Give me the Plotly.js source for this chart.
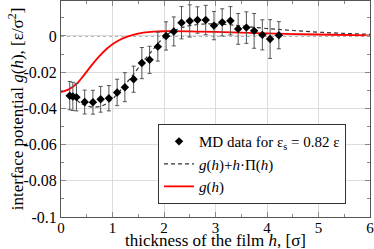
<!DOCTYPE html>
<html>
<head>
<meta charset="utf-8">
<script src="https://cdn.plot.ly/plotly-3.0.1.min.js"></script>
<style>html,body{margin:0;padding:0;background:#fff;}#chart{width:374px;height:249px;}</style>
</head>
<body>
<div id="chart"></div>
<script>
// MD data points
const hMD = [0.17,0.23,0.30,0.46,0.62,0.77,0.93,1.09,1.24,1.41,1.57,1.72,1.88,2.04,2.19,2.34,2.50,2.65,2.81,2.97,3.13,3.29,3.44,3.60,3.75,3.91,4.06,4.23];
const gMD = [-0.0330,-0.0334,-0.0338,-0.0365,-0.0366,-0.0350,-0.0344,-0.0312,-0.0283,-0.0239,-0.0150,-0.0132,-0.0059,0.0000,0.0025,0.0073,0.0083,0.0088,0.0088,0.0057,0.0075,0.0084,0.0039,0.0046,0.0028,0.0006,-0.0017,0.0004];
const errMD = [0.0078,0.0078,0.0076,0.0066,0.0066,0.0071,0.0070,0.0073,0.0080,0.0072,0.0086,0.0075,0.0080,0.0078,0.0080,0.0089,0.0089,0.0073,0.0081,0.0078,0.0075,0.0078,0.0085,0.0087,0.0096,0.0083,0.0107,0.0075];

// g(h) + h*Pi(h) (dashed)
const hDash = [0.30,0.40,0.55,0.66,0.80,0.92,1.08,1.24,1.40,1.57,1.73,1.89,2.05,2.21,2.40,2.60,2.80,3.00,3.30,3.60,4.00,4.50,5.00,5.50,6.00];
const gDash = [-0.0352,-0.0375,-0.0390,-0.0393,-0.0386,-0.0367,-0.0325,-0.0270,-0.0215,-0.0150,-0.0095,-0.0040,0.0006,0.0031,0.0050,0.0061,0.0066,0.0066,0.0061,0.0052,0.0041,0.0030,0.0021,0.0014,0.0009];

// g(h) (red)
const hRed = [0.00,0.15,0.30,0.45,0.60,0.75,0.90,1.05,1.20,1.40,1.60,1.80,2.00,2.50,3.00,4.00,5.00,6.00];
const gRed = [-0.0310,-0.0295,-0.0265,-0.0215,-0.0160,-0.0110,-0.0068,-0.0036,-0.0013,0.0006,0.0018,0.0024,0.0026,0.0025,0.0022,0.0014,0.0008,0.0003];

const xTickVals = [0,1,2,3,4,5,6];
const xTickText = ['0','1','2','3','4','5','6'];
const yTickVals = [0,-0.02,-0.04,-0.06,-0.08,-0.1];
const yTickText = ['0','-0.02','-0.04','-0.06','-0.08','-0.1'];

const xTitle = 'thickness of the film <i>h</i>, [σ]';
const yTitle = 'interface potential <i>g</i>(<i>h</i>), [ε/σ<sup>2</sup>]';

const serif = "'Liberation Serif', 'Times New Roman', serif";

const traces = [
  {x: hDash, y: gDash, mode: 'lines', name: '<i>g</i>(<i>h</i>)+<i>h</i>·Π(<i>h</i>)',
   line: {color: '#333', width: 1.2, dash: '4px,3px', shape: 'spline'}, legendrank: 2},
  {x: hRed, y: gRed, mode: 'lines', name: '<i>g</i>(<i>h</i>)',
   line: {color: '#ff0000', width: 1.8, shape: 'spline'}, legendrank: 3},
  {x: hMD, y: gMD, mode: 'markers', name: 'MD data for ε<sub>s</sub> = 0.82 ε',
   marker: {symbol: 'diamond', size: 6.5, color: '#000'},
   error_y: {type: 'data', array: errMD, visible: true, color: '#555', thickness: 1, width: 2},
   legendrank: 1}
];

const axisCommon = {
  showline: true, mirror: 'ticks', linecolor: '#555', linewidth: 1,
  showgrid: true, gridcolor: '#dcdcdc', gridwidth: 1, zeroline: false,
  ticks: 'inside', ticklen: 5, tickcolor: '#888', tickwidth: 1,
  ticklabeloverflow: 'allow',
  tickfont: {family: serif, size: 16, color: '#000'}
};

const layout = {
  width: 374, height: 249,
  margin: {l: 61, r: 4, t: 1, b: 32},
  paper_bgcolor: '#fff', plot_bgcolor: '#fff',
  showlegend: true,
  legend: {x: 0.314, y: 0.43, xanchor: 'left', yanchor: 'top',
           bgcolor: '#fff', bordercolor: '#333', borderwidth: 1,
           font: {family: serif, size: 15, color: '#000'}, tracegroupgap: 0},
  xaxis: Object.assign({}, axisCommon, {
    range: [0, 6], tickmode: 'array', tickvals: xTickVals, ticktext: xTickText,
    tickfont: {family: serif, size: 15, color: '#000'}, ticklabelstandoff: -3,
    minor: {dtick: 0.5, tick0: 0, ticks: 'inside', ticklen: 3, tickcolor: '#888', showgrid: false}
  }),
  yaxis: Object.assign({}, axisCommon, {
    range: [-0.1, 0.0193], tickmode: 'array', tickvals: yTickVals, ticktext: yTickText,
    minor: {dtick: 0.01, tick0: 0, ticks: 'inside', ticklen: 3, tickcolor: '#888', showgrid: false}
  }),
  annotations: [
    {text: xTitle, xref: 'paper', yref: 'paper', x: 0.5, y: -0.108, xanchor: 'center', yanchor: 'middle',
     showarrow: false, font: {family: serif, size: 17, color: '#000'}},
    {text: yTitle, xref: 'paper', yref: 'paper', x: -0.145, y: 0.5, xanchor: 'center', yanchor: 'middle',
     textangle: -90, showarrow: false, font: {family: serif, size: 17, color: '#000'}}
  ],
  shapes: [{type: 'line', xref: 'paper', yref: 'y', x0: 0, x1: 1, y0: 0, y1: 0,
            line: {color: '#555', width: 1, dash: 'dot'}, layer: 'below'}]
};

Plotly.newPlot('chart', traces, layout, {staticPlot: true, displayModeBar: false});
</script>
</body>
</html>
